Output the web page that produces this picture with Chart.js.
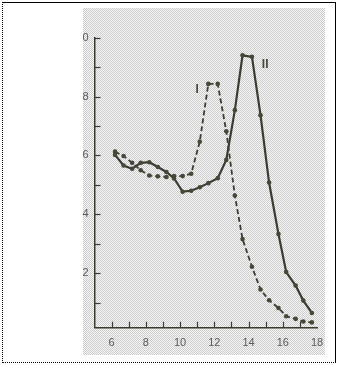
<!DOCTYPE html>
<html>
<head>
<meta charset="utf-8">
<script src="https://cdn.jsdelivr.net/npm/chart.js@4/dist/chart.umd.min.js"></script>
<style>
body { margin: 0; width: 338px; height: 365px; background: #fff; position: relative; overflow: hidden; }
#frame { position: absolute; left: 2px; top: 2px; width: 332px; height: 359px; border: 1px solid #000; border-left-style: dotted; border-bottom-style: dotted; }
#scan { position: absolute; left: 83px; top: 8px; width: 242px; height: 347px; background: repeating-conic-gradient(#cdcdcd 0 25%, #f6f6f6 0 50%) 0 0/2px 2px; }
#chart { position: absolute; left: 0; top: 0; }
</style>
</head>
<body>
<div id="frame"></div>
<div id="scan"></div>
<canvas id="chart" width="338" height="365"></canvas>
<script>
// readings taken off the scanned plot
var xValues = [6.2, 6.7, 7.2, 7.7, 8.2, 8.7, 9.2, 9.65, 10.15, 10.65, 11.15, 11.65,
               12.2, 12.7, 13.2, 13.65, 14.2, 14.7, 15.2, 15.75, 16.2, 16.75, 17.2, 17.7];
var curveI = [6.13, 5.98, 5.75, 5.5, 5.32, 5.29, 5.27, 5.3, 5.3, 5.38, 6.47, 8.43,
              8.43, 6.82, 4.64, 3.16, 2.22, 1.45, 1.08, 0.82, 0.54, 0.45, 0.36, 0.33];
var curveII = [6.02, 5.66, 5.55, 5.75, 5.77, 5.61, 5.44, 5.22, 4.77, 4.8, 4.92, 5.06,
               5.23, 5.85, 7.54, 9.4, 9.35, 7.37, 5.08, 3.33, 2.04, 1.58, 1.07, 0.65];
var curveNames = ['I', 'II'];

var xTicks = [6, 7, 8, 9, 10, 11, 12, 13, 14, 15, 16, 17, 18];
var xTickLabels = ['6', '', '8', '', '10', '', '12', '', '14', '', '16', '', '18'];
var yTicks = [1, 2, 3, 4, 5, 6, 7, 8, 9, 10];
var yTickLabels = ['', '2', '', '4', '', '6', '', '8', '', '0'];

var ink = '#3c3c33';
var labelFont = { family: '"Liberation Sans Narrow", "Liberation Sans", sans-serif', size: 11 };

function points(ys) {
    return xValues.map(function (x, i) { return { x: x, y: ys[i] }; });
}

// small tick marks that point into the plot
var innerTicks = {
    id: 'innerTicks',
    afterDraw: function (chart) {
        var c = chart.ctx, xs = chart.scales.x, ys = chart.scales.y, a = chart.chartArea;
        c.save();
        c.strokeStyle = ink;
        c.lineWidth = 1.2;
        xTicks.forEach(function (v) {
            if (v >= 18) return;
            var px = Math.round(xs.getPixelForValue(v)) + 0.5;
            c.beginPath(); c.moveTo(px, a.bottom); c.lineTo(px, a.bottom - 6); c.stroke();
        });
        yTicks.forEach(function (v) {
            var py = Math.round(ys.getPixelForValue(v)) + 0.5;
            c.beginPath(); c.moveTo(a.left, py); c.lineTo(a.left + 6, py); c.stroke();
        });
        c.restore();
    }
};

// the "I" and "II" tags next to the peaks
var nameTags = {
    id: 'nameTags',
    afterDraw: function (chart, args, opts) {
        var c = chart.ctx, xs = chart.scales.x, ys = chart.scales.y;
        c.save();
        c.fillStyle = '#4a4a40';
        c.font = 'bold 12px "Liberation Sans", sans-serif';
        c.textAlign = 'center';
        c.textBaseline = 'middle';
        opts.spots.forEach(function (s, i) {
            c.fillText(curveNames[i], xs.getPixelForValue(s[0]), ys.getPixelForValue(s[1]));
        });
        c.restore();
    }
};

var chart = new Chart(document.getElementById('chart'), {
    type: 'line',
    data: {
        datasets: [{
            label: curveNames[0],
            data: points(curveI),
            borderColor: ink,
            borderWidth: 1.8,
            borderDash: [5, 3],
            pointRadius: 2.3,
            pointBackgroundColor: '#474739',
            pointBorderWidth: 0,
            tension: 0
        }, {
            label: curveNames[1],
            data: points(curveII),
            borderColor: ink,
            borderWidth: 2.2,
            pointRadius: 2.3,
            pointBackgroundColor: '#474739',
            pointBorderWidth: 0,
            tension: 0
        }]
    },
    options: {
        responsive: false,
        animation: false,
        layout: { padding: { left: 0, right: 21, top: 37.7, bottom: 0 } },
        plugins: {
            legend: { display: false },
            tooltip: { enabled: false },
            nameTags: { spots: [[11.0, 8.22], [14.97, 9.1]] }
        },
        scales: {
            x: {
                type: 'linear',
                min: 5,
                max: 18,
                afterBuildTicks: function (s) { s.ticks = xTicks.map(function (v) { return { value: v }; }); },
                afterFit: function (s) { s.height = 37.3; },
                grid: { display: false, drawTicks: false },
                border: { display: true, color: ink, width: 1.5 },
                ticks: {
                    autoSkip: false,
                    maxRotation: 0,
                    padding: 9,
                    color: '#5c5c5c',
                    font: labelFont,
                    callback: function (v, i) { return xTickLabels[i]; }
                }
            },
            y: {
                min: 0.15,
                max: 10,
                afterBuildTicks: function (s) { s.ticks = yTicks.map(function (v) { return { value: v }; }); },
                afterFit: function (s) { s.width = 94.5; },
                grid: { display: false, drawTicks: false },
                border: { display: true, color: ink, width: 1.5 },
                ticks: {
                    autoSkip: false,
                    padding: 6,
                    color: '#5c5c5c',
                    font: labelFont,
                    callback: function (v, i) { return yTickLabels[i]; }
                }
            }
        }
    },
    plugins: [innerTicks, nameTags]
});
</script>
</body>
</html>
